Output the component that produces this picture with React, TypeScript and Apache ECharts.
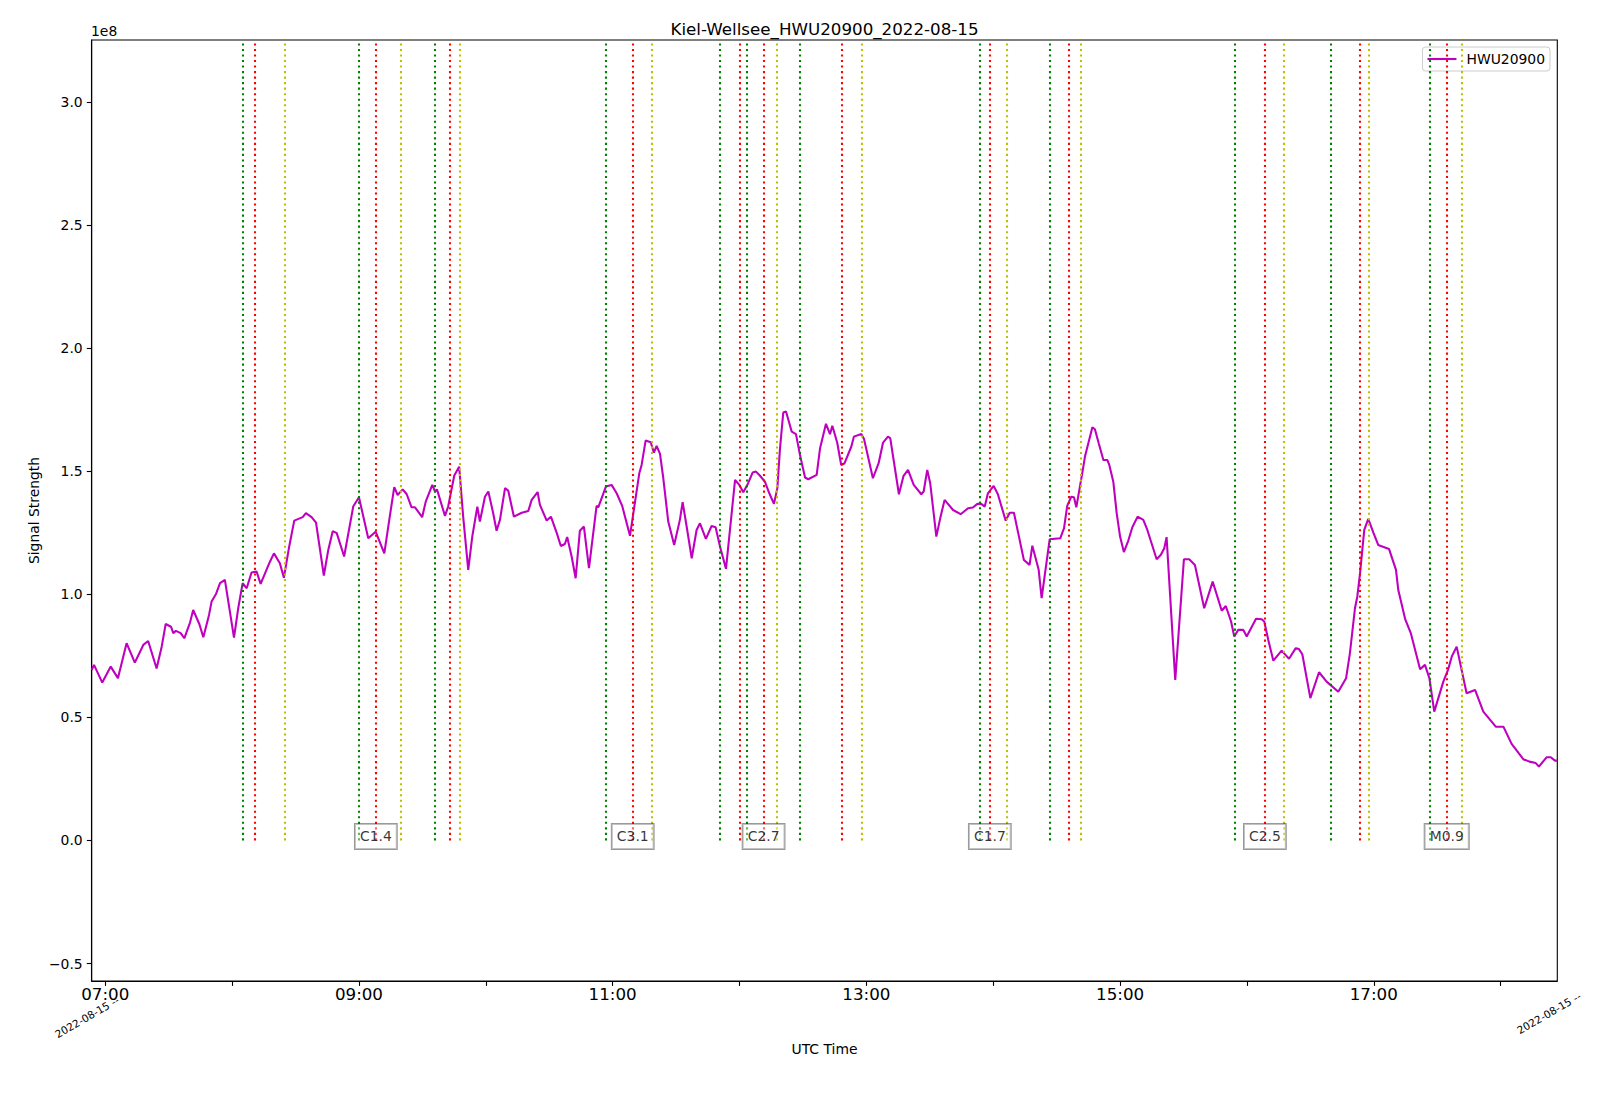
import React, { useEffect, useRef } from "react";
import * as echarts from "echarts";

// time in minutes after 00:00 UTC, signal in units of 1e8
const TIMES = [
  413.6, 414.7, 418.6, 422.6, 426.0, 430.1, 434.0, 438.0, 440.3, 444.3, 446.7, 448.6, 451.1, 452.2, 453.4, 455.7,
  457.4, 460.1, 461.6, 464.5, 466.4, 469.1, 470.3, 472.4, 474.3, 476.6, 480.9, 482.9, 485.0, 486.9, 489.2, 491.6,
  493.5, 497.9, 499.8, 502.6, 504.5, 507.0, 509.4, 513.4, 514.9, 517.6, 519.7, 523.4, 525.5, 527.6, 529.5, 533.0,
  537.3, 540.0, 544.4, 547.9, 552.0, 554.7, 556.7, 558.3, 560.7, 562.6, 564.9, 566.5, 569.9, 571.6, 574.7, 576.0,
  576.9, 580.7, 582.2, 585.1, 587.4, 589.3, 591.7, 593.6, 596.0, 597.2, 599.6, 601.2, 603.5, 605.1, 606.7, 609.1,
  610.6, 613.3, 617.0, 620.1, 621.7, 624.5, 625.6, 628.8, 630.8, 633.5, 635.5, 637.4, 638.5, 640.6, 642.5, 644.5,
  646.4, 648.8, 652.4, 653.2, 656.8, 659.5, 661.9, 664.5, 668.2, 670.5, 672.6, 673.7, 675.6, 678.0, 679.5, 680.8,
  682.4, 683.9, 686.3, 689.1, 691.8, 693.1, 695.0, 697.4, 699.7, 701.3, 704.1, 706.8, 708.7, 710.8, 713.6, 715.8,
  717.9, 719.9, 721.8, 724.1, 726.2, 727.8, 729.7, 732.0, 734.1, 736.3, 737.9, 739.1, 740.7, 742.0, 744.7, 746.7,
  748.6, 751.0, 752.5, 756.5, 758.1, 760.9, 762.8, 763.9, 766.2, 768.1, 769.7, 772.9, 774.1, 777.6, 778.9, 783.1,
  785.8, 787.9, 790.2, 791.3, 795.4, 797.6, 799.7, 802.4, 806.0, 807.1, 808.8, 810.2, 813.1, 815.1, 817.0, 821.0,
  824.6, 828.1, 830.4, 832.5, 834.3, 836.0, 837.5, 840.2, 842.2, 845.9, 847.8, 849.8, 852.0, 854.5, 857.2, 858.5,
  861.5, 862.9, 866.7, 871.7, 873.5, 875.0, 876.9, 878.2, 879.3, 881.0, 882.1, 883.4, 886.9, 888.1, 890.0, 892.1,
  894.0, 894.9, 896.8, 898.4, 900.0, 901.8, 903.9, 905.8, 908.3, 911.0, 912.9, 917.3, 919.3, 920.9, 922.0, 926.1,
  930.2, 932.7, 935.4, 939.8, 943.8, 948.1, 950.0, 952.5, 954.0, 955.9, 958.3, 959.9, 964.3, 967.0, 968.2, 970.1,
  972.5, 976.4, 979.9, 983.1, 984.6, 986.2, 990.0, 994.1, 997.7, 1003.2, 1006.9, 1008.7, 1011.1, 1012.2, 1013.5, 1015.5,
  1017.4, 1019.8, 1022.1, 1027.2, 1030.5, 1031.6, 1034.8, 1037.5, 1041.9, 1044.2, 1046.3, 1048.6, 1052.9, 1055.2, 1056.9, 1059.2,
  1063.9, 1067.9, 1071.8, 1077.7, 1081.3, 1085.2, 1090.7, 1093.6, 1096.6, 1098.1, 1101.8, 1103.7, 1105.7, 1106.8,
];
const SIGNAL = [
  0.692, 0.713, 0.641, 0.706, 0.659, 0.801, 0.722, 0.794, 0.810, 0.698, 0.787, 0.879, 0.868, 0.842, 0.851, 0.842,
  0.821, 0.885, 0.936, 0.879, 0.825, 0.916, 0.970, 1.001, 1.045, 1.058, 0.824, 0.943, 1.045, 1.024, 1.088, 1.092,
  1.042, 1.132, 1.166, 1.126, 1.067, 1.193, 1.299, 1.313, 1.329, 1.313, 1.291, 1.076, 1.180, 1.256, 1.248, 1.153,
  1.356, 1.394, 1.227, 1.254, 1.166, 1.322, 1.435, 1.403, 1.426, 1.406, 1.353, 1.353, 1.313, 1.376, 1.444, 1.417,
  1.426, 1.318, 1.356, 1.482, 1.518, 1.315, 1.099, 1.234, 1.356, 1.295, 1.396, 1.417, 1.329, 1.258, 1.302, 1.431,
  1.421, 1.315, 1.331, 1.338, 1.383, 1.415, 1.363, 1.299, 1.315, 1.250, 1.196, 1.204, 1.232, 1.153, 1.065, 1.258,
  1.275, 1.106, 1.359, 1.353, 1.437, 1.444, 1.410, 1.359, 1.237, 1.370, 1.491, 1.525, 1.624, 1.617, 1.575, 1.602,
  1.570, 1.475, 1.295, 1.200, 1.302, 1.374, 1.275, 1.146, 1.261, 1.288, 1.225, 1.277, 1.272, 1.193, 1.103, 1.288,
  1.464, 1.444, 1.414, 1.451, 1.494, 1.498, 1.481, 1.457, 1.410, 1.367, 1.431, 1.586, 1.738, 1.742, 1.660, 1.650,
  1.566, 1.474, 1.467, 1.485, 1.593, 1.692, 1.650, 1.684, 1.616, 1.525, 1.532, 1.600, 1.640, 1.651, 1.630, 1.471,
  1.532, 1.616, 1.640, 1.634, 1.406, 1.481, 1.505, 1.444, 1.406, 1.417, 1.505, 1.451, 1.234, 1.315, 1.383, 1.342,
  1.325, 1.349, 1.352, 1.367, 1.367, 1.356, 1.410, 1.440, 1.406, 1.299, 1.331, 1.331, 1.241, 1.139, 1.119, 1.197,
  1.099, 0.984, 1.223, 1.227, 1.268, 1.359, 1.396, 1.394, 1.353, 1.437, 1.491, 1.559, 1.678, 1.670, 1.610, 1.545,
  1.545, 1.525, 1.457, 1.329, 1.234, 1.171, 1.218, 1.272, 1.315, 1.302, 1.261, 1.142, 1.160, 1.187, 1.232, 0.652,
  1.142, 1.142, 1.119, 0.943, 1.051, 0.933, 0.952, 0.889, 0.828, 0.855, 0.855, 0.828, 0.900, 0.898, 0.889, 0.814,
  0.730, 0.771, 0.738, 0.781, 0.777, 0.756, 0.578, 0.683, 0.645, 0.604, 0.659, 0.760, 0.943, 0.990, 1.085, 1.261,
  1.306, 1.250, 1.200, 1.184, 1.099, 1.017, 0.900, 0.842, 0.695, 0.713, 0.659, 0.523, 0.645, 0.695, 0.747, 0.787,
  0.598, 0.611, 0.523, 0.462, 0.462, 0.392, 0.330, 0.320, 0.314, 0.300, 0.338, 0.338, 0.324, 0.324,
];

// flare times (minutes after 00:00 UTC)
const FLARE_START = [485.1, 540.0, 576.0, 656.8, 710.8, 723.4, 748.6, 833.7, 866.7, 954.4, 999.8, 1046.6];
const FLARE_PEAK = [490.7, 548.0, 583.0, 669.5, 720.0, 731.4, 768.5, 838.4, 875.8, 968.5, 1013.5, 1054.5];
const FLARE_END = [505.0, 560.0, 587.8, 678.4, 737.7, 777.8, 846.5, 881.5, 977.5, 1017.7, 1061.7];

const LABEL_TIMES = [548.0, 669.5, 731.4, 838.4, 968.5, 1054.5];
const LABEL_CLASSES = ["C1.4", "C3.1", "C2.7", "C1.7", "C2.5", "M0.9"];

const Y_TICKS = [-0.5, 0, 0.5, 1.0, 1.5, 2.0, 2.5, 3.0];
const X_LABEL_TICKS = [420, 540, 660, 780, 900, 1020];
const X_ALL_TICKS = [420, 480, 540, 600, 660, 720, 780, 840, 900, 960, 1020, 1080];

const X_MIN = 413.6;
const X_MAX = 1106.8;
const Y_MIN = -0.571;
const Y_MAX = 3.251;

const FONT = '"DejaVu Sans", sans-serif';
const TITLE = "Kiel-Wellsee_HWU20900_2022-08-15";
const SERIES_NAME = "HWU20900";
const DATE_TEXT = "2022-08-15 --";

function fmtTime(v: number): string {
  const h = Math.floor(v / 60);
  const m = Math.round(v - h * 60);
  return String(h).padStart(2, "0") + ":" + String(m).padStart(2, "0");
}

function vlineSeries(name: string, times: number[], color: string) {
  return {
    type: "line",
    name,
    data: [],
    silent: true,
    z: 4,
    markLine: {
      symbol: ["none", "none"],
      silent: true,
      animation: false,
      label: { show: false },
      emphasis: { disabled: true },
      lineStyle: { color, width: 2.08, type: [2.08, 3.44], opacity: 1 },
      data: times.map((t) => [{ coord: [t, 0] }, { coord: [t, Y_MAX] }]),
    },
  };
}

export default function App() {
  const ref = useRef<HTMLDivElement>(null);
  useEffect(() => {
    if (!ref.current) return;
    const chart = echarts.init(ref.current, undefined, { renderer: "svg" });
    const axisLine = { show: true, onZero: false, lineStyle: { color: "#000", width: 1.1 } };
    chart.setOption({
      animation: false,
      backgroundColor: "#fff",
      title: {
        text: TITLE,
        left: 824.5,
        top: 20.5,
        textAlign: "center",
        padding: 0,
        textStyle: { fontFamily: FONT, fontSize: 16.7, fontWeight: "normal", color: "#000", lineHeight: 17 },
      },
      legend: {
        data: [{ name: SERIES_NAME, icon: "rect" }],
        right: 50,
        top: 47,
        padding: [4, 5],
        itemWidth: 29,
        itemHeight: 2.1,
        borderColor: "#cccccc",
        borderWidth: 1,
        borderRadius: 3,
        backgroundColor: "rgba(255,255,255,0.8)",
        itemStyle: { color: "#bf00bf", borderWidth: 0 },
        textStyle: { fontFamily: FONT, fontSize: 13.9, lineHeight: 16, color: "#000", padding: [0, 0, 0, 5] },
      },
      grid: {
        left: 91.7,
        right: 42.7,
        top: 40,
        bottom: 121,
        show: true,
        borderColor: "#000",
        borderWidth: 1.1,
        backgroundColor: "transparent",
        containLabel: false,
      },
      xAxis: {
        type: "value",
        min: X_MIN,
        max: X_MAX,
        axisLine,
        splitLine: { show: false },
        axisTick: { show: true, customValues: X_ALL_TICKS, length: 4.9, lineStyle: { color: "#000", width: 1.1 } },
        axisLabel: {
          customValues: X_LABEL_TICKS,
          formatter: (v: number) => fmtTime(v),
          fontFamily: FONT,
          fontSize: 16.7,
          color: "#000",
          margin: 4.5,
        },
      },
      yAxis: {
        type: "value",
        min: Y_MIN,
        max: Y_MAX,
        axisLine,
        splitLine: { show: false },
        axisTick: { show: true, customValues: Y_TICKS, length: 4.9, lineStyle: { color: "#000", width: 1.1 } },
        axisLabel: {
          customValues: Y_TICKS,
          formatter: (v: number) => (v < 0 ? "\u2212" : "") + Math.abs(v).toFixed(1),
          fontFamily: FONT,
          fontSize: 13.9,
          color: "#000",
          margin: 9,
        },
      },
      series: [
        {
          type: "line",
          name: SERIES_NAME,
          data: TIMES.map((t, i) => [t, SIGNAL[i]]),
          symbol: "none",
          z: 3,
          lineStyle: { color: "#bf00bf", width: 2.08 },
          itemStyle: { color: "#bf00bf" },
          emphasis: { disabled: true },
        },
        vlineSeries("start", FLARE_START, "#008000"),
        vlineSeries("peak", FLARE_PEAK, "#ff0000"),
        vlineSeries("end", FLARE_END, "#bfbf00"),
        {
          type: "scatter",
          name: "class",
          data: LABEL_TIMES.map((t) => [t, 0]),
          symbolSize: 1,
          z: 6,
          silent: true,
          itemStyle: { color: "rgba(0,0,0,0)" },
          label: {
            show: true,
            position: "inside",
            offset: [0, -4],
            formatter: (p: any) => LABEL_CLASSES[p.dataIndex],
            fontFamily: FONT,
            fontSize: 13.9,
            lineHeight: 16,
            color: "#000",
            backgroundColor: "rgba(255,255,255,0.5)",
            borderColor: "rgba(0,0,0,0.5)",
            borderWidth: 1,
            padding: [4.5, 5, 4.5, 5],
          },
        },
      ],
      graphic: [
        {
          type: "text",
          x: 91,
          y: 31,
          style: { text: "1e8", font: `13.9px ${FONT}`, fill: "#000", textAlign: "left", textVerticalAlign: "middle" },
        },
        {
          type: "text",
          x: 34,
          y: 510.5,
          rotation: Math.PI / 2,
          style: { text: "Signal Strength", font: `13.9px ${FONT}`, fill: "#000", textAlign: "center", textVerticalAlign: "middle" },
        },
        {
          type: "text",
          x: 824.5,
          y: 1049,
          style: { text: "UTC Time", font: `13.9px ${FONT}`, fill: "#000", textAlign: "center", textVerticalAlign: "middle" },
        },
        {
          type: "text",
          x: 118,
          y: 999,
          rotation: Math.PI / 6,
          style: { text: DATE_TEXT, font: `10.5px ${FONT}`, fill: "#000", textAlign: "right", textVerticalAlign: "middle" },
        },
        {
          type: "text",
          x: 1580,
          y: 995,
          rotation: Math.PI / 6,
          style: { text: DATE_TEXT, font: `10.5px ${FONT}`, fill: "#000", textAlign: "right", textVerticalAlign: "middle" },
        },
      ],
    });
    return () => chart.dispose();
  }, []);
  return <div ref={ref} style={{ position: "fixed", left: 0, top: 0, width: 1600, height: 1102 }} />;
}
